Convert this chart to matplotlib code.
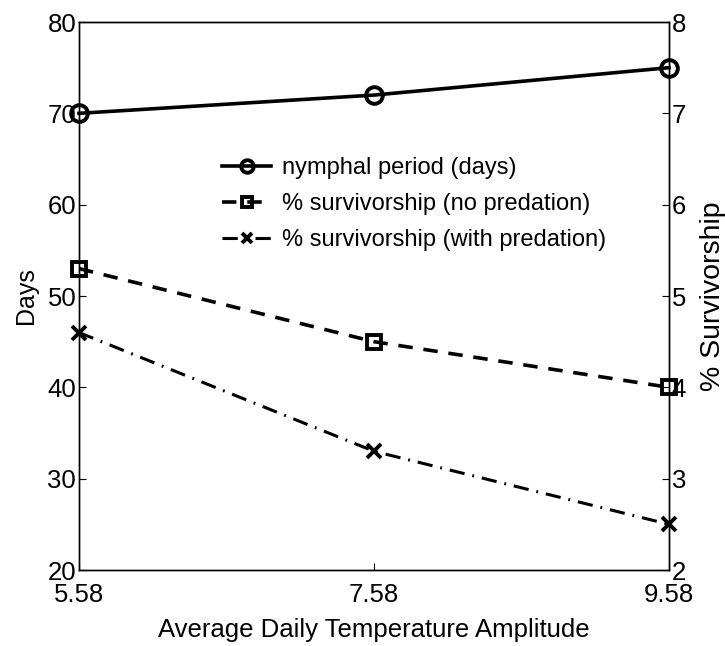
import matplotlib
matplotlib.use("Agg")
import matplotlib.pyplot as plt

# data
amplitude = [5.58, 7.58, 9.58]
amp_labels = ["5.58", "7.58", "9.58"]
nymphal_days = [70, 72, 75]
surv_no_pred = [5.3, 4.5, 4.0]
surv_with_pred = [4.6, 3.3, 2.5]
legend_labels = ["nymphal period (days)", "% survivorship (no predation)",
                 "% survivorship (with predation)"]

plt.rcParams["font.family"] = ["Liberation Sans", "DejaVu Sans"]

my_dpi = 100
fig = plt.figure(figsize=(725 / my_dpi, 646 / my_dpi), dpi=my_dpi)
ax = fig.add_axes([79 / 725, 1 - 570 / 646, (669 - 79) / 725, (570 - 22) / 646])
ax2 = ax.twinx()

l1, = ax.plot(amplitude, nymphal_days, "k-", lw=2.6, marker="o", ms=12,
              mfc="none", mew=2.8, clip_on=False, zorder=5)
l2, = ax2.plot(amplitude, surv_no_pred, "k--", lw=2.6, marker="s", ms=10,
               mfc="none", mew=2.8, clip_on=False, zorder=5, dashes=(4.0, 3.0))
l3, = ax2.plot(amplitude, surv_with_pred, "k-.", lw=2.2, marker="x", ms=10,
               mew=2.8, clip_on=False, zorder=5, dashes=(5.0, 2.6, 0.6, 2.6))

ax.set_xlim(5.58, 9.58)
ax.set_ylim(20, 80)
ax2.set_ylim(2, 8)
ax.set_xticks(amplitude)
ax.set_xticklabels(amp_labels)
ax.set_yticks(range(20, 81, 10))
ax2.set_yticks(range(2, 9))

for a in (ax, ax2):
    a.tick_params(direction="in", labelsize=18.5, length=5, width=0.8, pad=2)
    for s in a.spines.values():
        s.set_linewidth(1.0)
ax.tick_params(axis="x", pad=9)

ax.set_xlabel("Average Daily Temperature Amplitude", fontsize=18.5, labelpad=8)
ax.set_ylabel("Days", fontsize=18, labelpad=7)
ax2.set_ylabel("% Survivorship", fontsize=20.5, labelpad=10)

leg = ax2.legend([l1, l2, l3], legend_labels,
                 loc="center left", bbox_to_anchor=(0.242, 0.668), frameon=False,
                 fontsize=17, handlelength=2.1, handletextpad=0.45,
                 labelspacing=0.6, borderaxespad=0, borderpad=0, markerscale=0.75)

fig.savefig("out.png", dpi=my_dpi)
